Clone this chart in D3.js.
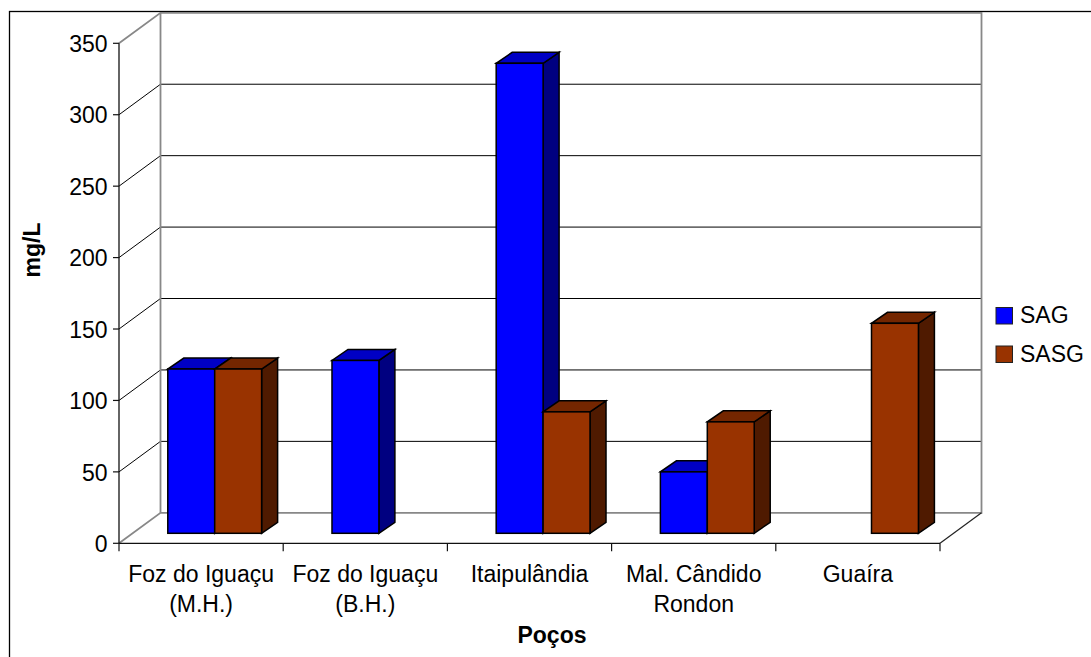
<!DOCTYPE html>
<html>
<head>
<meta charset="utf-8">
<script src="https://cdn.jsdelivr.net/npm/d3@7"></script>
<style>
  html, body { margin: 0; padding: 0; background: #fff; }
  svg { display: block; font-family: "Liberation Sans", Arial, sans-serif; }
</style>
</head>
<body>
<svg id="chart" width="1091" height="657"></svg>
<script>
// Poços sampled, concentration in mg/L per aquifer system
const categories = [["Foz do Iguaçu", "(M.H.)"], ["Foz do Iguaçu", "(B.H.)"], ["Itaipulândia"], ["Mal. Cândido", "Rondon"], ["Guaíra"]];
const seriesNames = ["SAG", "SASG"];
const sagValues = [115, 121, 329, 43, null];
const sasgValues = [115, null, 85, 78, 147];
const yTicks = [0, 50, 100, 150, 200, 250, 300, 350];

const seriesColors = {
  SAG:  { front: "#0000ff", top: "#0000c4", side: "#000080" },
  SASG: { front: "#993300", top: "#742600", side: "#4f1a00" }
};

const svg = d3.select("#chart");
const FONT = 23;

// Front plane of the 3-D box and its depth offset
const X0 = 119, X1 = 940;
const DX = 41.5, DY = 30.5;
// Bars sit part way into the depth
const BFX = 13.6, BFY = 10;   // front face offset
const BDX = 16, BDY = 11;     // bar depth

const keys = categories.map((c, i) => "c" + i);
const x = d3.scaleBand().domain(keys).range([X0, X1]);
const y = d3.scaleLinear().domain([0, 350]).range([543.3, 43.3]);

// Outer chart border
svg.append("rect")
  .attr("x", 9.5).attr("y", 11.5)
  .attr("width", 1100).attr("height", 700)
  .attr("fill", "#fff").attr("stroke", "#000").attr("stroke-width", 1.3);

const grid = svg.append("g");
// Back-wall gridlines and left-wall diagonals for interior ticks
yTicks.filter(v => v > 0 && v < 350).forEach(v => {
  grid.append("line")
    .attr("x1", X0 + DX).attr("x2", X1 + DX)
    .attr("y1", y(v) - DY).attr("y2", y(v) - DY)
    .attr("stroke", "#000").attr("stroke-width", 1);
  grid.append("line")
    .attr("x1", X0).attr("y1", y(v))
    .attr("x2", X0 + DX).attr("y2", y(v) - DY)
    .attr("stroke", "#000").attr("stroke-width", 1);
});

// Wall edges (grey)
const wallStroke = "#888";
const yTop = y(350), yBot = y(0);
grid.append("path")
  .attr("d", `M${X0},${yTop} L${X0 + DX},${yTop - DY} L${X1 + DX},${yTop - DY} L${X1 + DX},${yBot - DY} L${X0 + DX},${yBot - DY} L${X0},${yBot}`)
  .attr("fill", "none").attr("stroke", wallStroke).attr("stroke-width", 1.8);
grid.append("line")
  .attr("x1", X0 + DX).attr("x2", X0 + DX)
  .attr("y1", yTop - DY).attr("y2", yBot - DY)
  .attr("stroke", wallStroke).attr("stroke-width", 1.8);
// Right floor edge
grid.append("line")
  .attr("x1", X1).attr("y1", yBot)
  .attr("x2", X1 + DX).attr("y2", yBot - DY)
  .attr("stroke", "#222").attr("stroke-width", 1.2);

// Bars
const groupW = x.bandwidth() * 2 / 3.5;
const sub = d3.scaleBand().domain(seriesNames).range([0, groupW]);
const dataBySeries = { SAG: sagValues, SASG: sasgValues };
const bars = svg.append("g");

keys.forEach((k, i) => {
  const cx = x(k) + x.bandwidth() / 2 + BFX;
  seriesNames.forEach(s => {
    const v = dataBySeries[s][i];
    if (v == null) return;
    const c = seriesColors[s];
    const bx = cx - groupW / 2 + sub(s);
    const w = sub.bandwidth();
    const yt = y(v) - BFY, yb = y(0) - BFY;
    const g = bars.append("g")
      .attr("stroke", "#000").attr("stroke-width", 1.5).attr("stroke-linejoin", "miter");
    g.append("path")
      .attr("d", `M${bx + w},${yt} L${bx + w + BDX},${yt - BDY} L${bx + w + BDX},${yb - BDY} L${bx + w},${yb} Z`)
      .attr("fill", c.side);
    g.append("path")
      .attr("d", `M${bx},${yt} L${bx + w},${yt} L${bx + w + BDX},${yt - BDY} L${bx + BDX},${yt - BDY} Z`)
      .attr("fill", c.top);
    g.append("rect")
      .attr("x", bx).attr("y", yt)
      .attr("width", w).attr("height", yb - yt)
      .attr("fill", c.front);
  });
});

// Value axis
const yAxis = svg.append("g");
yAxis.append("line")
  .attr("x1", X0).attr("x2", X0).attr("y1", yTop).attr("y2", yBot)
  .attr("stroke", "#111").attr("stroke-width", 1.3);
yTicks.forEach(v => {
  yAxis.append("line")
    .attr("x1", X0 - 6).attr("x2", X0).attr("y1", y(v)).attr("y2", y(v))
    .attr("stroke", "#111").attr("stroke-width", 1.2);
  yAxis.append("text")
    .attr("x", 107.5).attr("y", y(v) + 8.7)
    .attr("text-anchor", "end").attr("font-size", FONT).attr("fill", "#000")
    .text(v);
});

// Category axis
const xAxis = svg.append("g");
xAxis.append("line")
  .attr("x1", X0).attr("x2", X1).attr("y1", yBot).attr("y2", yBot)
  .attr("stroke", "#111").attr("stroke-width", 1.3);
x.domain().concat(["end"]).forEach((k, i) => {
  const px = i < keys.length ? x(k) : X1;
  xAxis.append("line")
    .attr("x1", px).attr("x2", px).attr("y1", yBot).attr("y2", yBot + 8)
    .attr("stroke", "#111").attr("stroke-width", 1.2);
});
keys.forEach((k, i) => {
  const t = xAxis.append("text")
    .attr("text-anchor", "middle").attr("font-size", FONT).attr("fill", "#000");
  categories[i].forEach((line, j) => {
    t.append("tspan")
      .attr("x", x(k) + x.bandwidth() / 2)
      .attr("y", 581.5 + j * 30.5)
      .text(line);
  });
});

// Axis titles
svg.append("text")
  .attr("x", 552).attr("y", 643.3)
  .attr("text-anchor", "middle").attr("font-size", FONT).attr("font-weight", "bold")
  .text("Poços");
svg.append("text")
  .attr("transform", "translate(39.5,250) rotate(-90)")
  .attr("text-anchor", "middle").attr("font-size", FONT).attr("font-weight", "bold")
  .text("mg/L");

// Legend
const legend = svg.append("g");
seriesNames.forEach((s, i) => {
  const ly = 307.5 + i * 38.5;
  legend.append("rect")
    .attr("x", 996).attr("y", ly).attr("width", 16.5).attr("height", 16.5)
    .attr("fill", seriesColors[s].front).attr("stroke", "#222").attr("stroke-width", 1);
  legend.append("text")
    .attr("x", 1020).attr("y", ly + 15.5)
    .attr("font-size", FONT).attr("fill", "#000")
    .text(s);
});
</script>
</body>
</html>
